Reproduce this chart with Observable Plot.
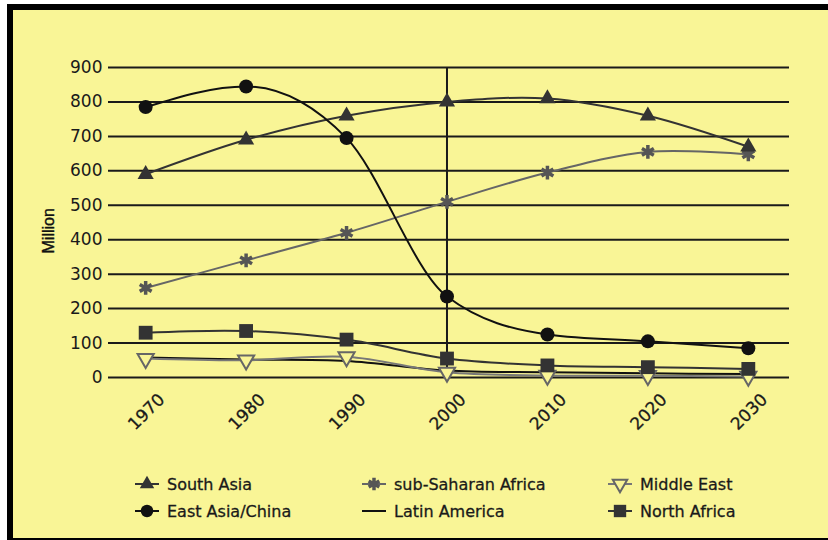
<!DOCTYPE html>
<html>
<head>
<meta charset="utf-8">
<script src="https://cdn.jsdelivr.net/npm/d3@7"></script>
<script src="https://cdn.jsdelivr.net/npm/@observablehq/plot@0.6"></script>
<style>
  html, body { margin: 0; padding: 0; background: #fff; }
  #frame {
    position: absolute; left: 7px; top: 4px;
    width: 821px; height: 536px; box-sizing: border-box;
    border-top: 6px solid #000; border-left: 6px solid #000; border-bottom: 2px solid #000;
    background: #f9f596; overflow: hidden;
    font-family: "DejaVu Sans", sans-serif;
  }
  #chart { position: absolute; left: 0; top: 0; }
  .legend-item { position: absolute; display: flex; align-items: center; font-size: 16px; color: #1a1a1a; white-space: nowrap; -webkit-text-stroke: 0.3px #1a1a1a; }
  .legend-item svg { margin-right: 8px; }
</style>
</head>
<body>
<div id="frame">
  <div id="chart"></div>
  <div id="legend"></div>
</div>
<script>
// Years on the horizontal axis
const years = [1970, 1980, 1990, 2000, 2010, 2020, 2030];
const yTicks = [0, 100, 200, 300, 400, 500, 600, 700, 800, 900];

// Population in millions, by region
const southAsia        = [590, 690, 760, 800, 810, 760, 670];
const eastAsiaChina    = [785, 845, 695, 235, 125, 105, 85];
const subSaharanAfrica = [260, 340, 420, 510, 595, 655, 648];
const middleEast       = [55, 50, 60, 15, 6, 5, 3];
const latinAmerica     = [58, 52, 48, 20, 15, 12, 10];
const northAfrica      = [130, 135, 110, 55, 35, 30, 25];

const regionNames = ["South Asia", "East Asia/China", "sub-Saharan Africa", "Middle East", "Latin America", "North Africa"];
const regionValues = [southAsia, eastAsiaChina, subSaharanAfrica, middleEast, latinAmerica, northAfrica];

const bg = "#f9f596";
const styles = {
  "South Asia":         {line: "#333", curve: "catmull-rom", symbol: "triangle", fill: "#333", stroke: "none", r: 6, rotate: 0, sw: 0},
  "East Asia/China":    {line: "#111", curve: "monotone-x", symbol: "circle", fill: "#111", stroke: "none", r: 7, rotate: 0, sw: 0},
  "sub-Saharan Africa": {line: "#666", curve: "catmull-rom", symbol: "asterisk", fill: "none", stroke: "#555", r: 6.5, rotate: 0, sw: 3.5},
  "Middle East":        {line: "#777", curve: "catmull-rom", symbol: "triangle", fill: bg, stroke: "#666", r: 6, rotate: 180, sw: 2},
  "Latin America":      {line: "#111", curve: "catmull-rom", symbol: null},
  "North Africa":       {line: "#333", curve: "catmull-rom", symbol: "square", fill: "#333", stroke: "none", r: 7.8, rotate: 0, sw: 0}
};

const rows = regionNames.flatMap((name, i) =>
  years.map((year, j) => ({region: name, year, value: regionValues[i][j]}))
);

const lineOrder = ["Latin America", "Middle East", "North Africa", "sub-Saharan Africa", "South Asia", "East Asia/China"];

const marks = [
  Plot.ruleY(yTicks, {stroke: "#1a1a1a", strokeWidth: 2}),
  Plot.ruleX([2000], {y1: 0, y2: 900, stroke: "#1a1a1a", strokeWidth: 2}),
  Plot.axisY({ticks: yTicks, tickSize: 0, tickPadding: 6, label: null, fontSize: 17, fill: "#1a1a1a", stroke: "#1a1a1a", strokeWidth: 0.3}),
  Plot.text(["Million"], {frameAnchor: "left", rotate: -90, dx: -60, dy: 31, fontSize: 16, fontFamily: "Liberation Sans, Arial, sans-serif", fill: "#111", stroke: "#111", strokeWidth: 0.4, lineAnchor: "middle"}),
  Plot.text(years, {x: d => d, frameAnchor: "bottom", text: d => String(d), rotate: -45, textAnchor: "end", lineAnchor: "bottom", dx: 20, dy: 23, fontSize: 17, fill: "#1a1a1a", stroke: "#1a1a1a", strokeWidth: 0.3})
];

for (const name of lineOrder) {
  const s = styles[name];
  const data = rows.filter(d => d.region === name);
  marks.push(Plot.line(data, {x: "year", y: "value", stroke: s.line, strokeWidth: 2, curve: s.curve}));
}
for (const name of lineOrder) {
  const s = styles[name];
  if (!s.symbol) continue;
  const data = rows.filter(d => d.region === name);
  marks.push(Plot.dot(data, {x: "year", y: "value", symbol: s.symbol, r: s.r, fill: s.fill, stroke: s.stroke, strokeWidth: s.sw, rotate: s.rotate}));
}

const chart = Plot.plot({
  width: 815,
  height: 425,
  marginLeft: 95,
  marginRight: 39,
  marginTop: 57,
  marginBottom: 58,
  style: {background: "transparent", fontFamily: "DejaVu Sans, sans-serif", overflow: "visible"},
  x: {domain: [1966.3, 2034.1], axis: null},
  y: {domain: [0, 900], axis: null},
  symbol: {type: "identity"},
  marks
});
document.getElementById("chart").append(chart);

// Legend: three columns, two rows
const legendLayout = [
  {name: "South Asia", x: 122, y: 474},
  {name: "sub-Saharan Africa", x: 349, y: 474},
  {name: "Middle East", x: 595, y: 474},
  {name: "East Asia/China", x: 122, y: 501},
  {name: "Latin America", x: 349, y: 501},
  {name: "North Africa", x: 595, y: 501}
];
const symbolTypes = {triangle: d3.symbolTriangle, circle: d3.symbolCircle, asterisk: d3.symbolAsterisk, square: d3.symbolSquare};
const legend = document.getElementById("legend");
for (const item of legendLayout) {
  const s = styles[item.name];
  const div = document.createElement("div");
  div.className = "legend-item";
  div.style.left = item.x + "px";
  div.style.top = (item.y - 11) + "px";
  div.style.height = "22px";
  const svg = d3.create("svg").attr("width", 24).attr("height", 22);
  svg.append("line").attr("x1", 0).attr("x2", 24).attr("y1", 11).attr("y2", 11)
    .attr("stroke", s.line).attr("stroke-width", 2);
  if (s.symbol) {
    svg.append("path")
      .attr("d", d3.symbol(symbolTypes[s.symbol], Math.PI * s.r * s.r * 0.8)())
      .attr("transform", `translate(12,11) rotate(${s.rotate})`)
      .attr("fill", s.fill).attr("stroke", s.stroke).attr("stroke-width", s.sw);
  }
  div.append(svg.node());
  const label = document.createElement("span");
  label.textContent = item.name;
  div.append(label);
  legend.append(div);
}
</script>
</body>
</html>
